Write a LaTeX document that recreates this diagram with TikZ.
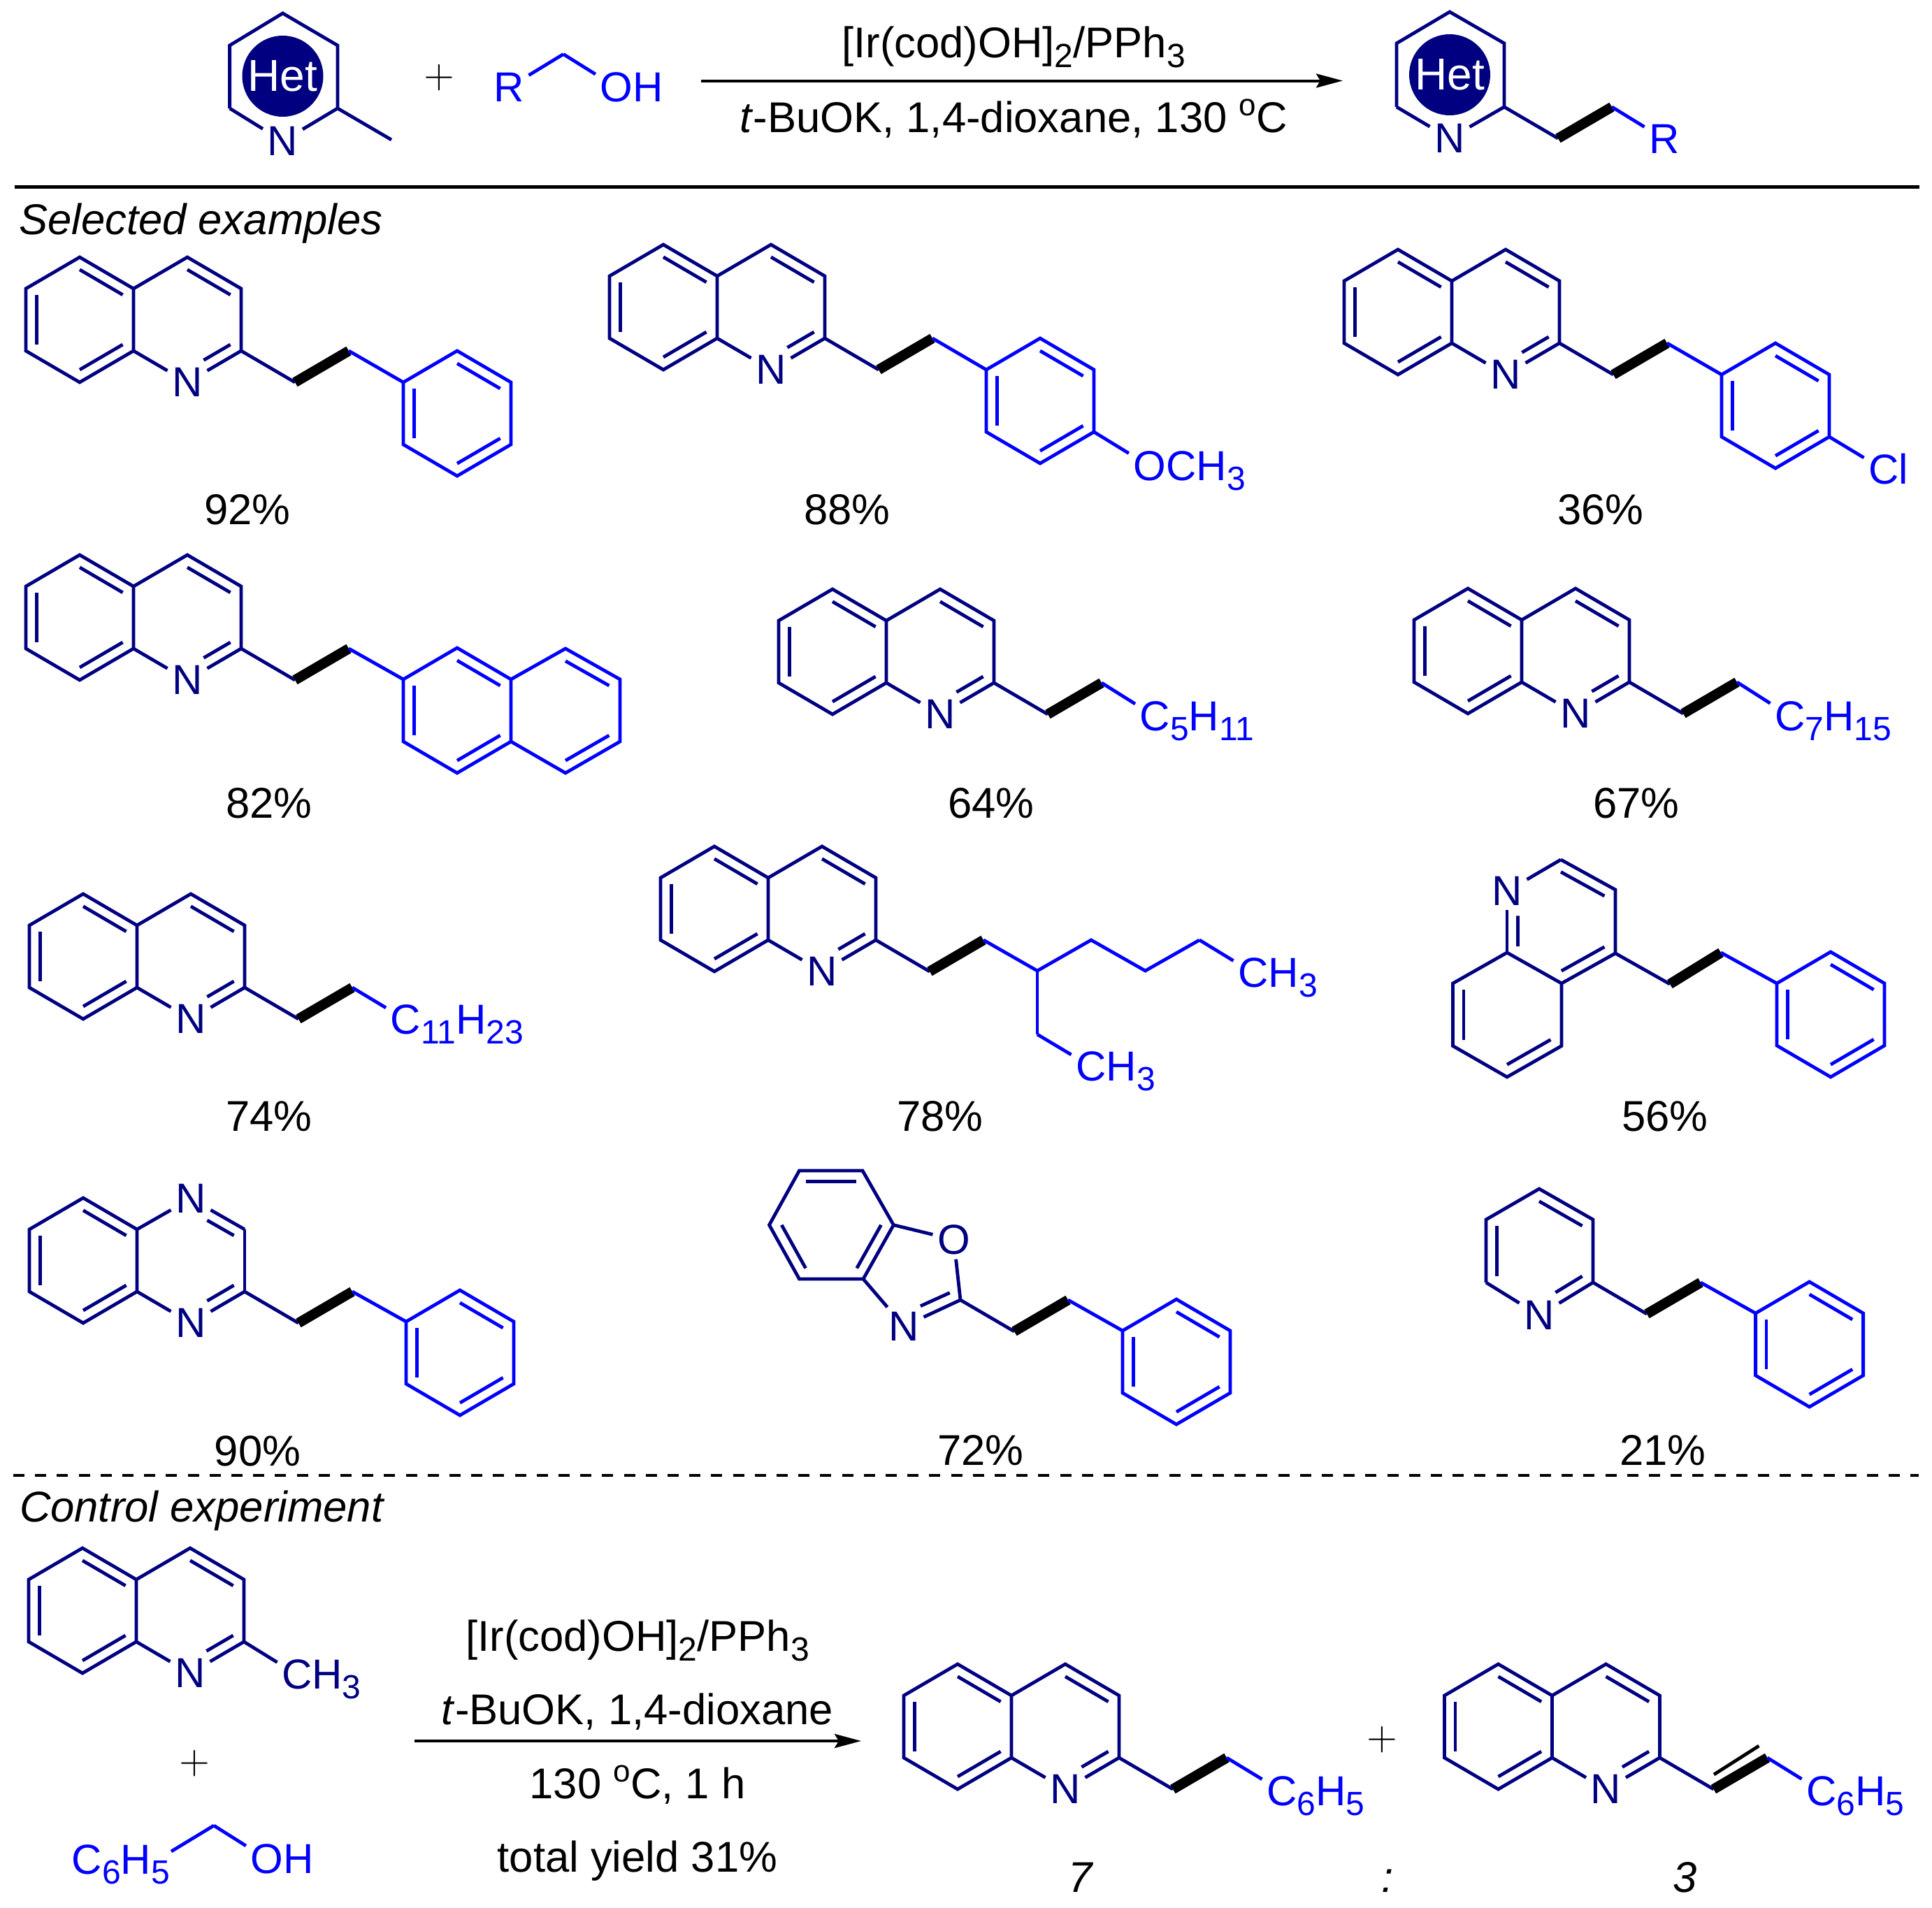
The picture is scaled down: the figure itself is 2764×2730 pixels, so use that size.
\documentclass[tikz,border=0pt]{standalone}
\usepackage{fontspec}
\setmainfont{Liberation Sans}
\usetikzlibrary{calc,arrows.meta}
\definecolor{hetnavy}{RGB}{0,0,128}
\definecolor{rblue}{RGB}{0,0,255}
\newcommand{\chemsub}[1]{\raisebox{-3.5pt}{\fontsize{12pt}{12pt}\selectfont #1}}
\newcommand{\degmark}{\raisebox{6pt}{\fontsize{11pt}{11pt}\selectfont o}}
% rest of a label, left out of the box of its first letter
\newcommand{\tailtext}[1]{\smash{\rlap{#1}}}
\tikzset{
	bond/.style={draw=hetnavy, line width=1.2pt},
	arbond/.style={draw=rblue, line width=1.2pt},
	boldbond/.style={draw=black, line width=3.6pt},
	atom/.style={text=hetnavy, inner sep=1.7pt, outer sep=0pt, font=\fontsize{15pt}{15pt}\selectfont},
	ratom/.style={atom, text=rblue},
	het/.style={circle, fill=hetnavy, text=white, inner sep=0pt, minimum size=29pt, font=\fontsize{16pt}{16pt}\selectfont},
	txt/.style={inner sep=0pt, outer sep=0pt, font=\fontsize{15.4pt}{15.4pt}\selectfont},
	rxnarrow/.style={draw=black, line width=1pt, -{Stealth[length=9.5pt,width=5pt,inset=1.5pt]}}
}
% inner line of a double bond, pulled towards the ring centre
\newcommand{\dbl}[4][bond]{\draw[#1] ($(#2)!.2!(#4)$) -- ($(#3)!.2!(#4)$);}
% same, cut short on the side of a hetero atom
\newcommand{\dbln}[3]{
	\coordinate (p) at ($(#1)!.2!(#3)$);
	\coordinate (q) at ($(#2)!.2!(#3)$);
	\draw[bond] (p) -- ($(p)!.62!(q)$);
}
\newcommand{\quinatoms}[3]{
	\coordinate (#1-c2) at (#2,#3);
	\coordinate (#1-c3) at ($(#1-c2)+(0,-89)$);
	\coordinate (#1-c4) at ($(#1-c2)+(-77,-134)$);
	\coordinate (#1-c4a) at ($(#1-c2)+(-154,-89)$);
	\coordinate (#1-c5) at ($(#1-c2)+(-231,-134)$);
	\coordinate (#1-c6) at ($(#1-c2)+(-308,-89)$);
	\coordinate (#1-c7) at ($(#1-c2)+(-308,0)$);
	\coordinate (#1-c8) at ($(#1-c2)+(-231,45)$);
	\coordinate (#1-c8a) at ($(#1-c2)+(-154,0)$);
	\coordinate (#1-ra) at ($(#1-c2)+(-77,-45)$);
	\coordinate (#1-rb) at ($(#1-c2)+(-231,-45)$);
	\node[atom] (#1-n) at ($(#1-c2)+(-77,45)$) {N};
	\draw[bond] (#1-c4a) -- (#1-c5) -- (#1-c6) -- (#1-c7) -- (#1-c8) -- (#1-c8a) -- cycle;
	\draw[bond] (#1-c8a) -- (#1-n);
	\draw[bond] (#1-c2) -- (#1-n);
	\dbl{#1-c4a}{#1-c5}{#1-rb}
	\dbl{#1-c6}{#1-c7}{#1-rb}
	\dbl{#1-c8}{#1-c8a}{#1-rb}
	\dbln{#1-c2}{#1-n}{#1-ra}
}
\newcommand{\quinoline}[3]{
	\quinatoms{#1}{#2}{#3}
	\draw[bond] (#1-c2) -- (#1-c3) -- (#1-c4) -- (#1-c4a);
	\dbl{#1-c3}{#1-c4}{#1-ra}
}
% CH2-CH2 on c2, the second bond bold
\newcommand{\chain}[1]{
	\coordinate (#1-ca) at ($(#1-c2)+(77,45)$);
	\coordinate (#1-cb) at ($(#1-c2)+(154,0)$);
	\draw[bond] (#1-c2) -- (#1-ca);
	\draw[boldbond] (#1-ca) -- (#1-cb);
}
% phenyl hung on the cb of a chain, #2 and #3 its first corner
\newcommand{\phenyl}[3]{
	\coordinate (#1-p1) at (#2,#3);
	\coordinate (#1-p2) at ($(#1-p1)+(77,-45)$);
	\coordinate (#1-p3) at ($(#1-p1)+(154,0)$);
	\coordinate (#1-p4) at ($(#1-p1)+(154,89)$);
	\coordinate (#1-p5) at ($(#1-p1)+(77,134)$);
	\coordinate (#1-p6) at ($(#1-p1)+(0,89)$);
	\coordinate (#1-pc) at ($(#1-p1)+(77,45)$);
	\draw[arbond] (#1-cb) -- (#1-p1);
	\draw[arbond] (#1-p1) -- (#1-p2) -- (#1-p3) -- (#1-p4) -- (#1-p5) -- (#1-p6) -- cycle;
	\dbl[arbond]{#1-p1}{#1-p6}{#1-pc}
	\dbl[arbond]{#1-p2}{#1-p3}{#1-pc}
	\dbl[arbond]{#1-p4}{#1-p5}{#1-pc}
}
\begin{document}
\begin{tikzpicture}[x=0.25pt, y=-0.25pt]
	\useasboundingbox (0,0) rectangle (2764,2730);

	% scheme on top
	\node[het] (het-a) at (404.5,109) {Het};
	\node[atom] (a-n) at (404.5,202) {N};
	\coordinate (a-1) at (483,155);
	\coordinate (a-2) at (483,65);
	\coordinate (a-3) at (404.5,19);
	\coordinate (a-4) at (328.6,65);
	\coordinate (a-5) at (328.6,155);
	\coordinate (a-me) at (560,200);
	\draw[bond] (a-1) -- (a-2) -- (a-3) -- (a-4) -- (a-5);
	\draw[bond] (a-5) -- (a-n);
	\draw[bond] (a-1) -- (a-n);
	\draw[bond] (a-1) -- (a-me);
	\node[txt] (plus-a) at (628,111) {$+$};
	\node[ratom] (r-a) at (728,125) {R};
	\node[ratom] (oh-a) at (882,125) {O\tailtext{H}};
	\coordinate (r-c) at (806,77.5);
	\draw[arbond] (r-a) -- (r-c);
	\draw[arbond] (r-c) -- (oh-a);
	\coordinate (ar-as) at (1003,115.5);
	\coordinate (ar-ae) at (1921,115.5);
	\draw[rxnarrow] (ar-as) -- (ar-ae);
	\node[txt, anchor=base] (cat-a) at (1450,82) {[Ir(cod)OH]\chemsub{2}/PPh\chemsub{3}};
	\node[txt, anchor=base] (cond-a) at (1450,189) {\textit{t}-BuOK, 1,4-dioxane, 130 \degmark C};
	\node[het] (het-b) at (2074,107) {Het};
	\node[atom] (b-n) at (2074,198) {N};
	\coordinate (b-c2) at (2152,153);
	\coordinate (b-2) at (2152,62);
	\coordinate (b-3) at (2074,17);
	\coordinate (b-4) at (1998,62);
	\coordinate (b-5) at (1998,153);
	\draw[bond] (b-c2) -- (b-2) -- (b-3) -- (b-4) -- (b-5);
	\draw[bond] (b-5) -- (b-n);
	\draw[bond] (b-c2) -- (b-n);
	\chain{b}
	\node[ratom] (b-r) at (2381,199) {R};
	\draw[arbond] (b-cb) -- (b-r);

	\coordinate (rule-s) at (21,267.5);
	\coordinate (rule-e) at (2746,267.5);
	\draw[line width=1.25pt] (rule-s) -- (rule-e);
	\node[txt, anchor=base west] (sel) at (27,335) {\textit{Selected examples}};

	% first row
	\quinoline{m1}{345}{502}
	\chain{m1}
	\phenyl{m1}{577}{547}
	\node[txt] (y1) at (354,729) {92\%};

	\quinoline{m2}{1180}{484}
	\chain{m2}
	\phenyl{m2}{1411}{529}
	\node[ratom] (m2-o) at (1645,667) {O\tailtext{CH\chemsub{3}}};
	\draw[arbond] (m2-p4) -- (m2-o);
	\node[txt] (y2) at (1212,729) {88\%};

	\quinoline{m3}{2231}{491}
	\chain{m3}
	\phenyl{m3}{2463}{536}
	\node[ratom] (m3-cl) at (2695,672) {C\tailtext{l}};
	\draw[arbond] (m3-p4) -- (m3-cl);
	\node[txt] (y3) at (2290,729) {36\%};

	% second row
	\quinoline{m4}{345}{928}
	\chain{m4}
	\phenyl{m4}{577}{972}
	\coordinate (m4-n1) at (809,928);
	\coordinate (m4-n2) at (887,972);
	\coordinate (m4-n3) at (887,1061);
	\coordinate (m4-n4) at (809,1106);
	\coordinate (m4-nc) at (809,1017);
	\draw[arbond] (m4-p3) -- (m4-n1) -- (m4-n2) -- (m4-n3) -- (m4-n4) -- (m4-p4);
	\dbl[arbond]{m4-n1}{m4-n2}{m4-nc}
	\dbl[arbond]{m4-n3}{m4-n4}{m4-nc}
	\node[txt] (y4) at (385,1149) {82\%};

	\quinoline{m5}{1422}{977}
	\chain{m5}
	\node[ratom] (m5-r) at (1652.5,1025) {C\tailtext{\chemsub{5}H\chemsub{11}}};
	\draw[arbond] (m5-cb) -- (m5-r);
	\node[txt] (y5) at (1418,1149) {64\%};

	\quinoline{m6}{2331}{976}
	\chain{m6}
	\node[ratom] (m6-r) at (2561,1024.5) {C\tailtext{\chemsub{7}H\chemsub{15}}};
	\draw[arbond] (m6-cb) -- (m6-r);
	\node[txt] (y6) at (2341,1149) {67\%};

	% third row
	\quinoline{m7}{350}{1413}
	\chain{m7}
	\node[ratom] (m7-r) at (580.6,1459) {C\tailtext{\chemsub{11}H\chemsub{23}}};
	\draw[arbond] (m7-cb) -- (m7-r);
	\node[txt] (y7) at (385,1597) {74\%};

	\quinoline{m8}{1253}{1345}
	\chain{m8}
	\coordinate (m8-d) at (1484,1389);
	\coordinate (m8-e) at (1561,1345);
	\coordinate (m8-f) at (1638.5,1389);
	\coordinate (m8-g) at (1716,1345);
	\coordinate (m8-h) at (1484,1480);
	\node[ratom] (m8-me) at (1793,1392) {C\tailtext{H\chemsub{3}}};
	\node[ratom] (m8-mf) at (1561,1526) {C\tailtext{H\chemsub{3}}};
	\draw[arbond] (m8-cb) -- (m8-d) -- (m8-e) -- (m8-f) -- (m8-g);
	\draw[arbond] (m8-g) -- (m8-me);
	\draw[arbond] (m8-d) -- (m8-h);
	\draw[arbond] (m8-h) -- (m8-mf);
	\node[txt] (y8) at (1345,1597) {78\%};

	% 4-substituted one, drawn by hand
	\node[atom] (m9-n) at (2156,1275) {N};
	\coordinate (m9-c2) at (2233,1230);
	\coordinate (m9-c3) at (2311,1273);
	\coordinate (m9-c4) at (2311,1364);
	\coordinate (m9-c4a) at (2234,1407);
	\coordinate (m9-c5) at (2234,1496.5);
	\coordinate (m9-c6) at (2156,1541);
	\coordinate (m9-c7) at (2078.5,1496.5);
	\coordinate (m9-c8) at (2078.5,1407);
	\coordinate (m9-c8a) at (2156,1363);
	\coordinate (m9-ra) at (2233,1318);
	\coordinate (m9-rb) at (2156,1452);
	\coordinate (m9-ca) at (2389,1408);
	\coordinate (m9-cb) at (2462,1363);
	\draw[bond] (m9-n) -- (m9-c2);
	\draw[bond] (m9-c2) -- (m9-c3) -- (m9-c4) -- (m9-c4a) -- (m9-c5) -- (m9-c6) -- (m9-c7) -- (m9-c8) -- (m9-c8a) -- (m9-c4a);
	\draw[bond] (m9-c8a) -- (m9-n);
	\dbl{m9-c2}{m9-c3}{m9-ra}
	\dbl{m9-c4}{m9-c4a}{m9-ra}
	\dbln{m9-c8a}{m9-n}{m9-ra}
	\dbl{m9-c5}{m9-c6}{m9-rb}
	\dbl{m9-c7}{m9-c8}{m9-rb}
	\draw[bond] (m9-c4) -- (m9-ca);
	\draw[boldbond] (m9-ca) -- (m9-cb);
	\phenyl{m9}{2542}{1407}
	\node[txt] (y9) at (2382,1597) {56\%};

	% fourth row
	\quinatoms{m10}{350}{1848}
	\node[atom] (m10-n4) at (273,1715) {N};
	\draw[bond] (m10-c4a) -- (m10-n4);
	\draw[bond] (m10-c3) -- (m10-n4);
	\draw[bond] (m10-c2) -- (m10-c3);
	\dbln{m10-c3}{m10-n4}{m10-ra}
	\chain{m10}
	\phenyl{m10}{581}{1891}
	\node[txt] (y10) at (368.5,2076) {90\%};

	\coordinate (m11-a) at (1143.5,1675);
	\coordinate (m11-b) at (1234,1675);
	\coordinate (m11-c) at (1278.4,1752.7);
	\coordinate (m11-d) at (1235,1830);
	\coordinate (m11-e) at (1143.5,1830);
	\coordinate (m11-f) at (1100.5,1752.7);
	\coordinate (m11-rc) at (1189,1752.7);
	\coordinate (m11-c2) at (1374,1860);
	\coordinate (m11-ia) at (1358.8,1849.7);
	\coordinate (m11-ib) at (1316.9,1868.7);
	\node[atom] (m11-o) at (1364.5,1773.7) {O};
	\node[atom] (m11-n) at (1293,1897.7) {N};
	\draw[bond] (m11-a) -- (m11-b) -- (m11-c) -- (m11-d) -- (m11-e) -- (m11-f) -- cycle;
	\draw[bond] (m11-c) -- (m11-o);
	\draw[bond] (m11-o) -- (m11-c2);
	\draw[bond] (m11-d) -- (m11-n);
	\draw[bond] (m11-c2) -- (m11-n);
	\draw[bond] (m11-ia) -- (m11-ib);
	\dbl{m11-a}{m11-b}{m11-rc}
	\dbl{m11-c}{m11-d}{m11-rc}
	\dbl{m11-e}{m11-f}{m11-rc}
	\chain{m11}
	\phenyl{m11}{1606}{1904}
	\node[txt] (y11) at (1403,2075) {72\%};

	\node[atom] (m12-n) at (2202,1882) {N};
	\coordinate (m12-c2) at (2279,1835);
	\coordinate (m12-c3) at (2279,1745);
	\coordinate (m12-c4) at (2202,1701);
	\coordinate (m12-c5) at (2126,1745);
	\coordinate (m12-c6) at (2126,1835);
	\coordinate (m12-rc) at (2202,1790);
	\draw[bond] (m12-c2) -- (m12-c3) -- (m12-c4) -- (m12-c5) -- (m12-c6);
	\draw[bond] (m12-c6) -- (m12-n);
	\draw[bond] (m12-c2) -- (m12-n);
	\dbl{m12-c3}{m12-c4}{m12-rc}
	\dbl{m12-c5}{m12-c6}{m12-rc}
	\dbln{m12-c2}{m12-n}{m12-rc}
	\chain{m12}
	\phenyl{m12}{2511.6}{1879}
	\node[txt] (y12) at (2379,2075) {21\%};

	\coordinate (cut-s) at (19,2111);
	\coordinate (cut-e) at (2745,2111);
	\draw[line width=1.2pt, dash pattern=on 4pt off 3.8pt] (cut-s) -- (cut-e);
	\node[txt, anchor=base west] (ctrl) at (28,2177) {\textit{Control experiment}};

	% control experiment
	\quinoline{s1}{349}{2349}
	\node[atom] (s1-me) at (425,2396) {C\tailtext{H\chemsub{3}}};
	\draw[bond] (s1-c2) -- (s1-me);
	\node[txt] (plus-b) at (278.5,2523) {$+$};
	\node[ratom, anchor=base east, inner sep=0pt] (s2-ph) at (243,2681) {C\chemsub{6}H\chemsub{5}};
	\node[ratom] (s2-oh) at (382,2660) {O\tailtext{H}};
	\coordinate (s2-c) at (306,2612);
	\coordinate (s2-e) at (245,2649);
	\draw[arbond] (s2-e) -- (s2-c);
	\draw[arbond] (s2-c) -- (s2-oh);
	\node[txt, anchor=base] (cat-b) at (912,2362) {[Ir(cod)OH]\chemsub{2}/PPh\chemsub{3}};
	\node[txt, anchor=base] (cond-b) at (912,2467) {\textit{t}-BuOK, 1,4-dioxane};
	\node[txt, anchor=base] (temp-b) at (912,2573) {130 \degmark C, 1 h};
	\node[txt, anchor=base] (tot-b) at (912,2678) {total yield 31\%};
	\coordinate (ar-bs) at (593,2491);
	\coordinate (ar-be) at (1232,2491);
	\draw[rxnarrow] (ar-bs) -- (ar-be);

	\quinoline{p7}{1601}{2515}
	\chain{p7}
	\node[ratom] (p7-r) at (1834,2563) {C\tailtext{\chemsub{6}H\chemsub{5}}};
	\draw[arbond] (p7-cb) -- (p7-r);
	\node[txt] (plus-c) at (1977,2489) {$+$};
	\quinoline{p3}{2374.5}{2515}
	\chain{p3}
	\coordinate (p3-ia) at (2452,2539);
	\coordinate (p3-ib) at (2516.4,2498);
	\draw[draw=black, line width=1.2pt] (p3-ia) -- (p3-ib);
	\node[ratom] (p3-r) at (2606,2563) {C\tailtext{\chemsub{6}H\chemsub{5}}};
	\draw[arbond] (p3-cb) -- (p3-r);
	\node[txt, anchor=base] (lab7) at (1547,2707) {\textit{7}};
	\node[txt, anchor=base] (colon) at (1985.5,2707) {\textit{:}};
	\node[txt, anchor=base] (lab3) at (2411,2707) {\textit{3}};
\end{tikzpicture}
\end{document}
